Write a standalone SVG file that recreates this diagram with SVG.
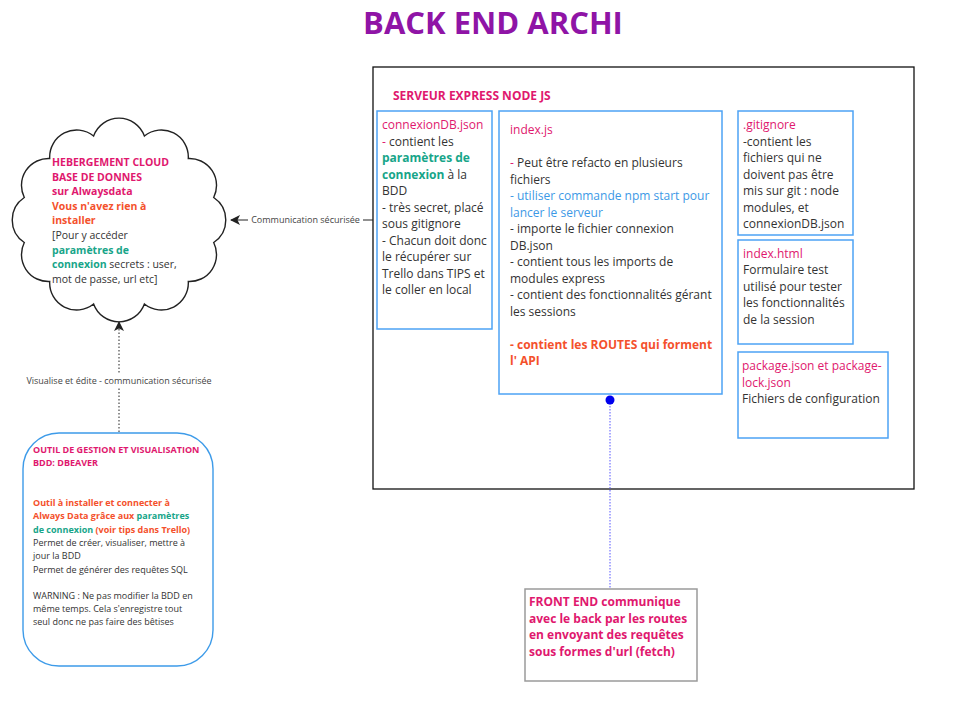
<svg xmlns="http://www.w3.org/2000/svg" width="960" height="714" viewBox="0 0 960 714">
<style>
text{font-family:"Open Sans","Liberation Sans",sans-serif;fill:#333333}
.b{font-weight:bold}
.pk{fill:#e0186e}
.or{fill:#f4512c}
.gr{fill:#17a589}
.bl{fill:#3c99e6}
.t12{font-size:12px}
.t105{font-size:10.5px}
.t9{font-size:9px}
.box{fill:#ffffff;stroke:#4da3f5;stroke-width:1.5}
.lbl{font-size:9px;fill:#444444}
</style>
<defs>
<marker id="ah" viewBox="0 0 10 10" refX="9" refY="5" markerWidth="10" markerHeight="10" markerUnits="userSpaceOnUse" orient="auto">
<path d="M0,0 L10,5 L0,10 L2.5,5 Z" fill="#222222"/>
</marker>
</defs>
<rect width="960" height="714" fill="#ffffff"/>

<g id="title">
<text x="493" y="34" text-anchor="middle" class="b" style="font-size:31px;fill:#8f14a6">BACK END ARCHI</text>
</g>

<g id="serveur">
<rect x="373" y="67" width="541" height="422" fill="#ffffff" stroke="#111111" stroke-width="1.3"/>
<text x="393" y="100" class="b t12 pk">SERVEUR EXPRESS NODE JS</text>
</g>

<g id="connexionDB">
<rect class="box" x="377" y="111" width="115" height="218"/>
<text class="t12" x="382">
<tspan x="382" y="129" class="pk">connexionDB.json</tspan>
<tspan x="382" y="145.5"><tspan class="pk">-</tspan> contient les</tspan>
<tspan x="382" y="162" class="b gr">paramètres de</tspan>
<tspan x="382" y="178.5"><tspan class="b gr">connexion</tspan> à la</tspan>
<tspan x="382" y="195">BDD</tspan>
<tspan x="382" y="211.5">- très secret, placé</tspan>
<tspan x="382" y="228">sous gitignore</tspan>
<tspan x="382" y="244.5">- Chacun doit donc</tspan>
<tspan x="382" y="261">le récupérer sur</tspan>
<tspan x="382" y="277.5">Trello dans TIPS et</tspan>
<tspan x="382" y="294">le coller en local</tspan>
</text>
</g>

<g id="indexjs">
<rect class="box" x="499" y="111" width="223" height="283"/>
<text class="t12">
<tspan x="510" y="134" class="pk">index.js</tspan>
<tspan x="510" y="167"><tspan class="pk">-</tspan> Peut être refacto en plusieurs</tspan>
<tspan x="510" y="183.5">fichiers</tspan>
<tspan x="510" y="200" class="bl">- utiliser commande npm start pour</tspan>
<tspan x="510" y="216.5" class="bl">lancer le serveur</tspan>
<tspan x="510" y="233">- importe le fichier connexion</tspan>
<tspan x="510" y="249.5">DB.json</tspan>
<tspan x="510" y="266">- contient tous les imports de</tspan>
<tspan x="510" y="282.5">modules express</tspan>
<tspan x="510" y="299">- contient des fonctionnalités gérant</tspan>
<tspan x="510" y="315.5">les sessions</tspan>
<tspan x="510" y="348.5" class="b or">- contient les ROUTES qui forment</tspan>
<tspan x="510" y="365" class="b or">l' API</tspan>
</text>
</g>

<g id="gitignore">
<rect class="box" x="738" y="111" width="115" height="124"/>
<text class="t12">
<tspan x="743" y="129" class="pk">.gitignore</tspan>
<tspan x="743" y="145.5">-contient les</tspan>
<tspan x="743" y="162">fichiers qui ne</tspan>
<tspan x="743" y="178.5">doivent pas être</tspan>
<tspan x="743" y="195">mis sur git : node</tspan>
<tspan x="743" y="211.5">modules, et</tspan>
<tspan x="743" y="228">connexionDB.json</tspan>
</text>
</g>

<g id="indexhtml">
<rect class="box" x="738" y="240" width="115" height="104"/>
<text class="t12">
<tspan x="743" y="257.5" class="pk">index.html</tspan>
<tspan x="743" y="274">Formulaire test</tspan>
<tspan x="743" y="290.5">utilisé pour tester</tspan>
<tspan x="743" y="307">les fonctionnalités</tspan>
<tspan x="743" y="323.5">de la session</tspan>
</text>
</g>

<g id="package">
<rect class="box" x="738" y="352" width="150" height="86"/>
<text class="t12">
<tspan x="742" y="370" class="pk">package.json et package-</tspan>
<tspan x="742" y="386.5" class="pk">lock.json</tspan>
<tspan x="742" y="403">Fichiers de configuration</tspan>
</text>
</g>

<g id="cloud">
<path d="M213.7,197.5 A27,27 0 0 1 213.7,242.5 A27,27 0 0 1 188.3,281.5 A27,27 0 0 1 144.4,304 A27,27 0 0 1 93.6,304 A27,27 0 0 1 49.7,281.5 A27,27 0 0 1 24.3,242.5 A27,27 0 0 1 24.3,197.5 A27,27 0 0 1 49.7,158.5 A27,27 0 0 1 93.6,136 A27,27 0 0 1 144.4,136 A27,27 0 0 1 188.3,158.5 A27,27 0 0 1 213.7,197.5 Z" fill="#ffffff" stroke="#222222" stroke-width="1.4"/>
<text class="t105">
<tspan x="52" y="166" class="b pk">HEBERGEMENT CLOUD</tspan>
<tspan x="52" y="180.6" class="b pk">BASE DE DONNES</tspan>
<tspan x="52" y="195.2" class="b pk">sur Alwaysdata</tspan>
<tspan x="52" y="209.8" class="b or">Vous n'avez rien à</tspan>
<tspan x="52" y="224.4" class="b or">installer</tspan>
<tspan x="52" y="239">[Pour y accéder</tspan>
<tspan x="52" y="253.6" class="b gr">paramètres de</tspan>
<tspan x="52" y="268.2"><tspan class="b gr">connexion</tspan> secrets : user,</tspan>
<tspan x="52" y="282.8">mot de passe, url etc]</tspan>
</text>
</g>

<g id="dbeaver">
<rect x="23" y="433" width="190" height="233" rx="36" ry="36" fill="#ffffff" stroke="#3d9be9" stroke-width="1.4"/>
<text class="t9">
<tspan x="33" y="453" class="b pk">OUTIL DE GESTION ET VISUALISATION</tspan>
<tspan x="33" y="466.3" class="b pk">BDD: DBEAVER</tspan>
<tspan x="33" y="506" class="b or">Outil à installer et connecter à</tspan>
<tspan x="33" y="519.3"><tspan class="b or">Always Data grâce aux </tspan><tspan class="b gr">paramètres</tspan></tspan>
<tspan x="33" y="532.6"><tspan class="b gr">de connexion</tspan><tspan class="b or"> (voir tips dans Trello)</tspan></tspan>
<tspan x="33" y="545.9">Permet de créer, visualiser, mettre à</tspan>
<tspan x="33" y="559.2">jour la BDD</tspan>
<tspan x="33" y="572.5">Permet de générer des requêtes SQL</tspan>
<tspan x="33" y="598.5">WARNING : Ne pas modifier la BDD en</tspan>
<tspan x="33" y="611.8">même temps. Cela s'enregistre tout</tspan>
<tspan x="33" y="625.1">seul donc ne pas faire des bêtises</tspan>
</text>
</g>

<g id="frontend">
<rect x="525" y="589" width="172" height="92" fill="#ffffff" stroke="#9a9a9a" stroke-width="1.5"/>
<text class="b t12 pk">
<tspan x="529" y="606">FRONT END communique</tspan>
<tspan x="529" y="622.5">avec le back par les routes</tspan>
<tspan x="529" y="639">en envoyant des requêtes</tspan>
<tspan x="529" y="655.5">sous formes d'url (fetch)</tspan>
</text>
</g>

<g id="connectors">
<line x1="373" y1="220" x2="231" y2="220" stroke="#222222" stroke-width="1" marker-end="url(#ah)"/>
<rect x="248" y="213" width="115" height="13" fill="#ffffff"/>
<text x="305.5" y="223" text-anchor="middle" class="lbl">Communication sécurisée</text>
<line x1="119" y1="432" x2="119" y2="322" stroke="#222222" stroke-width="1" stroke-dasharray="1.5 2" marker-end="url(#ah)"/>
<rect x="22" y="374" width="194" height="13" fill="#ffffff"/>
<text x="119" y="384" text-anchor="middle" class="lbl">Visualise et édite - communication sécurisée</text>
<line x1="610" y1="400" x2="610" y2="589" stroke="#5555ff" stroke-width="1" stroke-dasharray="1.5 1.5"/>
<circle cx="610" cy="400" r="4.5" fill="#0000ee"/>
</g>
</svg>
